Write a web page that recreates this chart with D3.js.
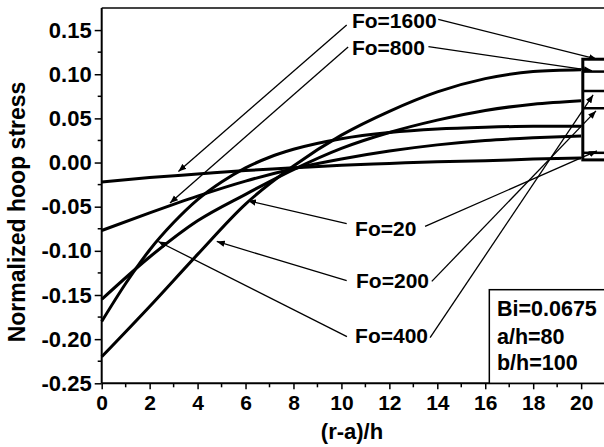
<!DOCTYPE html>
<html>
<head>
<meta charset="utf-8">
<script src="https://cdn.jsdelivr.net/npm/d3@7"></script>
<style>
  body { margin: 0; background: #fff; }
  svg text { font-family: "Liberation Sans", Arial, sans-serif; font-weight: bold; fill: #000; }
</style>
</head>
<body>
<svg id="chart" width="604" height="447"></svg>
<script>
// x positions, (r-a)/h
var xs = [0, 2, 4, 6, 8, 10, 12, 14, 16, 18, 20];
var xsFine = [0, 1, 2, 3, 4, 5, 6, 7, 8, 10, 12, 14, 16, 18, 20];
// normalized hoop stress for each Fourier number
var fo1600 = [-0.022, -0.017, -0.013, -0.009, -0.006, -0.003, -0.001, 0.001, 0.002, 0.004, 0.005];
var fo800  = [-0.077, -0.057, -0.038, -0.021, -0.007, 0.004, 0.013, 0.020, 0.025, 0.028, 0.030];
var fo400  = [-0.155, -0.107, -0.066, -0.036, -0.008, 0.016, 0.034, 0.048, 0.059, 0.066, 0.070];
var fo200  = [-0.220, -0.163, -0.104, -0.047, -0.004, 0.031, 0.058, 0.080, 0.095, 0.103, 0.105];
var fo20   = [-0.180, -0.137, -0.099, -0.068, -0.042, -0.022, -0.006, 0.006, 0.015, 0.027, 0.034, 0.038, 0.040, 0.041, 0.041];

var xTicks = [0, 2, 4, 6, 8, 10, 12, 14, 16, 18, 20];
var xMinor = [1, 3, 5, 7, 9, 11, 13, 15, 17, 19];
var yTicks = [-0.25, -0.20, -0.15, -0.10, -0.05, 0.00, 0.05, 0.10, 0.15];
var yMinor = [-0.225, -0.175, -0.125, -0.075, -0.025, 0.025, 0.075, 0.125];

// labels: text position, left arrow (start, tip), right arrow (start, tip) in data units
var labels = [
  {t: "Fo=1600", x: 10.44, y: 0.1523, l: [10.22, 0.1558, 3.20, -0.0102], r: [14.04, 0.1622, 20.66, 0.117]},
  {t: "Fo=800",  x: 10.44, y: 0.1218, l: [10.28, 0.1309, 2.85, -0.0459], r: [13.63, 0.1312, 20.45, 0.1041]},
  {t: "Fo=20",   x: 10.57, y: -0.0829, l: [10.22, -0.0693, 6.10, -0.0433], r: [13.49, -0.0724, 20.66, 0.0132]},
  {t: "Fo=200",  x: 10.61, y: -0.1417, l: [10.22, -0.1338, 4.80, -0.0894], r: [13.77, -0.1346, 20.62, 0.0585]},
  {t: "Fo=400",  x: 10.57, y: -0.2040, l: [10.23, -0.1972, 2.36, -0.0894], r: [13.70, -0.1983, 20.50, 0.0766]}
];

// zoom box at the right edge and the curves inside it
var insetBox = [20.07, 0.117, 0.003];
var insetLines = [0.103, 0.081, 0.0615, 0.011];

var infoLines = ["Bi=0.0675", "a/h=80", "b/h=100"];
var infoBaselines = [-0.1742, -0.2051, -0.2353];

var svg = d3.select("#chart");
var x = d3.scaleLinear().domain([0, 21]).range([101.7, 605.1]);
var y = d3.scaleLinear().domain([-0.25, 0.175]).range([383.3, 8]);

var defs = svg.append("defs");
defs.append("marker")
  .attr("id", "arr")
  .attr("viewBox", "0 0 10 10")
  .attr("refX", 10).attr("refY", 5)
  .attr("markerWidth", 8).attr("markerHeight", 8)
  .attr("markerUnits", "userSpaceOnUse")
  .attr("orient", "auto")
  .append("path").attr("d", "M0,1 L10,5 L0,9 Z").attr("fill", "#000");

// top frame
svg.append("line")
  .attr("x1", x(0)).attr("x2", 604)
  .attr("y1", y(0.175)).attr("y2", y(0.175))
  .attr("stroke", "#444").attr("stroke-width", 2);

// curves
var line = d3.line()
  .x(function(d) { return x(d[0]); })
  .y(function(d) { return y(d[1]); })
  .curve(d3.curveMonotoneX);

var series = [fo1600, fo800, fo400, fo200];
series.forEach(function(s) {
  svg.append("path")
    .datum(xs.map(function(v, i) { return [v, s[i]]; }))
    .attr("d", line)
    .attr("fill", "none").attr("stroke", "#000").attr("stroke-width", 3);
});
svg.append("path")
  .datum(xsFine.map(function(v, i) { return [v, fo20[i]]; }))
  .attr("d", line)
  .attr("fill", "none").attr("stroke", "#000").attr("stroke-width", 3);

// inset box
svg.append("rect")
  .attr("x", x(insetBox[0])).attr("y", y(insetBox[1]))
  .attr("width", 40).attr("height", y(insetBox[2]) - y(insetBox[1]))
  .attr("fill", "none").attr("stroke", "#000").attr("stroke-width", 3);
svg.selectAll("line.inset")
  .data(insetLines)
  .enter().append("line")
  .attr("x1", x(insetBox[0])).attr("x2", 604)
  .attr("y1", function(d) { return y(d); }).attr("y2", function(d) { return y(d); })
  .attr("stroke", "#000").attr("stroke-width", 2.5);

// axes
var yAxis = d3.axisLeft(y).tickValues(yTicks).tickSize(7).tickPadding(3)
  .tickFormat(d3.format(".2f"));
var gy = svg.append("g").attr("transform", "translate(" + x(0) + ",0)").call(yAxis);
gy.select(".domain").remove();
gy.append("line").attr("x1", 0).attr("x2", 0).attr("y1", y(0.175)).attr("y2", y(-0.25))
  .attr("stroke", "#000").attr("stroke-width", 2);
gy.selectAll(".tick line").attr("stroke-width", 1.5);
gy.selectAll(".tick text").style("font-size", "22px").style("font-family", "Liberation Sans, Arial")
  .text(function(d) { return d3.format(".2f")(d).replace("−", "-"); });
gy.selectAll(".minor").data(yMinor).enter().append("line").attr("class", "minor")
  .attr("x1", -4).attr("x2", 0)
  .attr("y1", function(d) { return y(d); }).attr("y2", function(d) { return y(d); })
  .attr("stroke", "#000").attr("stroke-width", 1.5);

var xAxis = d3.axisBottom(x).tickValues(xTicks).tickSize(6).tickPadding(6);
var gx = svg.append("g").attr("transform", "translate(0," + y(-0.25) + ")").call(xAxis);
gx.select(".domain").remove();
gx.append("line").attr("x1", x(0)).attr("x2", 604).attr("y1", 0).attr("y2", 0)
  .attr("stroke", "#000").attr("stroke-width", 2);
gx.selectAll(".tick line").attr("stroke-width", 1.5);
gx.selectAll(".tick text").style("font-size", "21px").style("font-family", "Liberation Sans, Arial");
gx.selectAll(".minor").data(xMinor).enter().append("line").attr("class", "minor")
  .attr("x1", function(d) { return x(d); }).attr("x2", function(d) { return x(d); })
  .attr("y1", 0).attr("y2", 4)
  .attr("stroke", "#000").attr("stroke-width", 1.5);

// axis titles
svg.append("text")
  .attr("x", 352).attr("y", 439)
  .attr("text-anchor", "middle")
  .style("font-size", "22px")
  .text("(r-a)/h");
svg.append("text")
  .attr("transform", "translate(25,212) rotate(-90)")
  .attr("text-anchor", "middle")
  .style("font-size", "23px")
  .text("Normalized hoop stress");

// info box
svg.append("rect")
  .attr("x", x(16.17)).attr("y", y(-0.144))
  .attr("width", 140).attr("height", y(-0.25) - y(-0.144))
  .attr("fill", "#fff").attr("stroke", "#000").attr("stroke-width", 1.5);
svg.selectAll("text.info")
  .data(infoLines)
  .enter().append("text")
  .attr("class", "info")
  .attr("x", x(16.49))
  .attr("y", function(d, i) { return y(infoBaselines[i]); })
  .style("font-size", "21.5px")
  .text(function(d) { return d; });

// labels and leaders
labels.forEach(function(d) {
  svg.append("line")
    .attr("x1", x(d.l[0])).attr("y1", y(d.l[1]))
    .attr("x2", x(d.l[2])).attr("y2", y(d.l[3]))
    .attr("stroke", "#000").attr("stroke-width", 1.3)
    .attr("marker-end", "url(#arr)");
  svg.append("line")
    .attr("x1", x(d.r[0])).attr("y1", y(d.r[1]))
    .attr("x2", x(d.r[2])).attr("y2", y(d.r[3]))
    .attr("stroke", "#000").attr("stroke-width", 1.3)
    .attr("marker-end", "url(#arr)");
  svg.append("text")
    .attr("x", x(d.x)).attr("y", y(d.y))
    .style("font-size", "21px")
    .text(d.t);
});
</script>
</body>
</html>
